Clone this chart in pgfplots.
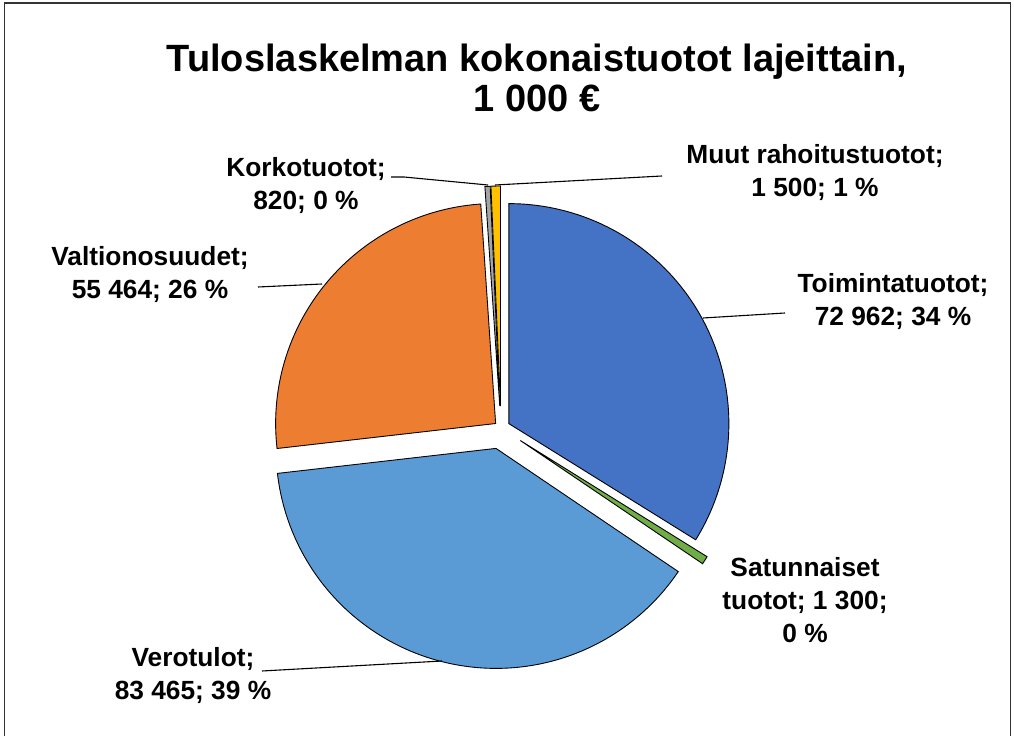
\documentclass[border=0pt]{standalone}
\usepackage{pgfplots}
\pgfplotsset{compat=1.18}
\usepackage{fontspec}
\setmainfont{Liberation Sans}
\definecolor{cToim}{HTML}{4472C4}
\definecolor{cSat}{HTML}{70AD47}
\definecolor{cVero}{HTML}{5B9BD5}
\definecolor{cVal}{HTML}{ED7D31}
\definecolor{cKork}{HTML}{A5A5A5}
\definecolor{cMuut}{HTML}{FFC000}
% data (1 000 EUR), in clockwise order from 12 o'clock
\def\vA{72962}% Toimintatuotot
\def\vB{1300}%  Satunnaiset tuotot
\def\vC{83465}% Verotulot
\def\vD{55464}% Valtionosuudet
\def\vE{820}%   Korkotuotot
\def\vF{1500}%  Muut rahoitustuotot
\edef\pieTot{\fpeval{\vA+\vB+\vC+\vD+\vE+\vF}}
\edef\pbA{\fpeval{round(360*(\vA)/\pieTot,4)}}
\edef\pbB{\fpeval{round(360*(\vA+\vB)/\pieTot,4)}}
\edef\pbC{\fpeval{round(360*(\vA+\vB+\vC)/\pieTot,4)}}
\edef\pbD{\fpeval{round(360*(\vA+\vB+\vC+\vD)/\pieTot,4)}}
\edef\pbE{\fpeval{round(360*(\vA+\vB+\vC+\vD+\vE)/\pieTot,4)}}
\def\pbF{360}
% centre and explosion of each slice
\def\pcx{501}\def\pcy{308}\def\prad{220}
\edef\pxA{\fpeval{round(\pcx+9*sind((0+\pbA)/2),3)}}
\edef\pyA{\fpeval{round(\pcy+9*cosd((0+\pbA)/2),3)}}
\edef\pxB{\fpeval{round(\pcx+23*sind((\pbA+\pbB)/2),3)}}
\edef\pyB{\fpeval{round(\pcy+23*cosd((\pbA+\pbB)/2),3)}}
\edef\pxC{\fpeval{round(\pcx+21*sind((\pbB+\pbC)/2),3)}}
\edef\pyC{\fpeval{round(\pcy+21*cosd((\pbB+\pbC)/2),3)}}
\edef\pxD{\fpeval{round(\pcx+7*sind((\pbC+\pbD)/2),3)}}
\edef\pyD{\fpeval{round(\pcy+7*cosd((\pbC+\pbD)/2),3)}}
\edef\pxE{\fpeval{round(\pcx+22*sind((\pbD+\pbE)/2),3)}}
\edef\pyE{\fpeval{round(\pcy+22*cosd((\pbD+\pbE)/2),3)}}
\edef\pxF{\fpeval{round(\pcx+22*sind((\pbE+\pbF)/2),3)}}
\edef\pyF{\fpeval{round(\pcy+22*cosd((\pbE+\pbF)/2),3)}}
\newcommand\lbl{\fontsize{26.3}{33}\selectfont\bfseries}
\begin{document}
\begin{tikzpicture}
\begin{axis}[x=1pt,y=1pt,xmin=0,xmax=1014,ymin=0,ymax=736,
  axis lines=none, clip=false]
\path (axis cs:0,0) rectangle (axis cs:1014,736);
% frame
\addplot[black!80, line width=1.3pt] coordinates {(4.5,0) (4.5,733) (1010.5,733) (1010.5,0)};
% slices
\addplot[fill=cToim, draw=black, line width=0.9pt, domain=0:\pbA, samples=120] ({\pxA+\prad*sin(x)},{\pyA+\prad*cos(x)}) -- (axis cs:\pxA,\pyA) -- cycle;
\addplot[fill=cSat, draw=black, line width=0.9pt, domain=\pbA:\pbB, samples=10] ({\pxB+\prad*sin(x)},{\pyB+\prad*cos(x)}) -- (axis cs:\pxB,\pyB) -- cycle;
\addplot[fill=cVero, draw=black, line width=0.9pt, domain=\pbB:\pbC, samples=140] ({\pxC+\prad*sin(x)},{\pyC+\prad*cos(x)}) -- (axis cs:\pxC,\pyC) -- cycle;
\addplot[fill=cVal, draw=black, line width=0.9pt, domain=\pbC:\pbD, samples=100] ({\pxD+\prad*sin(x)},{\pyD+\prad*cos(x)}) -- (axis cs:\pxD,\pyD) -- cycle;
\addplot[fill=cKork, draw=black, line width=0.9pt, domain=\pbD:\pbE, samples=10] ({\pxE+\prad*sin(x)},{\pyE+\prad*cos(x)}) -- (axis cs:\pxE,\pyE) -- cycle;
\addplot[fill=cMuut, draw=black, line width=0.9pt, domain=\pbE:\pbF, samples=10] ({\pxF+\prad*sin(x)},{\pyF+\prad*cos(x)}) -- (axis cs:\pxF,\pyF) -- cycle;
% leader lines
\addplot[black, line width=1.1pt] coordinates {(391,559) (404,559) (488,551)};
\addplot[black, line width=1.1pt] coordinates {(495,551) (662,560)};
\addplot[black, line width=1.1pt] coordinates {(258,449) (322,452)};
\addplot[black, line width=1.1pt] coordinates {(703,418) (785,423)};
\addplot[black, line width=1.1pt] coordinates {(262,65) (442,75)};
% title
\node[font=\fontsize{38}{40}\selectfont\bfseries, align=center] at (axis cs:537,658) {Tuloslaskelman kokonaistuotot lajeittain,\\1 000 €};
% data labels
\node[font=\lbl, align=center] at (axis cs:306,550) {Korkotuotot;\\820; 0 \%};
\node[font=\lbl, align=center] at (axis cs:815,563) {Muut rahoitustuotot;\\1 500; 1 \%};
\node[font=\lbl, align=center] at (axis cs:150,461) {Valtionosuudet;\\55 464; 26 \%};
\node[font=\lbl, align=center] at (axis cs:893,434) {Toimintatuotot;\\72 962; 34 \%};
\node[font=\lbl, align=center] at (axis cs:805,136) {Satunnaiset\\tuotot; 1 300;\\0 \%};
\node[font=\lbl, align=center] at (axis cs:193,60) {Verotulot;\\83 465; 39 \%};
\end{axis}
\end{tikzpicture}
\end{document}
